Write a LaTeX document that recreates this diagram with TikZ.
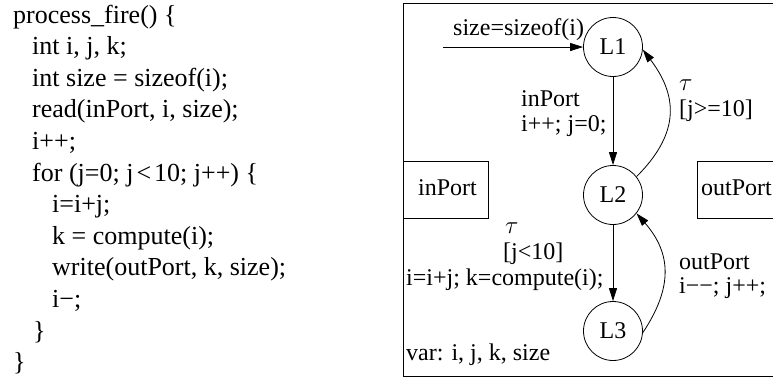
\documentclass[tikz,border=0pt]{standalone}
\usepackage{fontspec}
\setmainfont{Liberation Serif}
\usetikzlibrary{arrows.meta}

\tikzset{
  codeline/.style={anchor=base west, inner sep=0pt, font=\fontsize{26}{31}\selectfont},
  lbl/.style={anchor=base west, inner sep=0pt, font=\fontsize{24}{28}\selectfont},
  loc/.style={draw, circle, minimum size=59pt, inner sep=0pt, line width=0.8pt,
              font=\fontsize{24}{28}\selectfont},
  portbox/.style={draw, line width=0.8pt},
  trans/.style={line width=0.8pt, -{Triangle[length=13pt,width=8pt]}},
}

\begin{document}
\begin{tikzpicture}[x=1pt, y=-1pt]
  \useasboundingbox (0,0) rectangle (773,378);
  \clip (0,0) rectangle (773,378);

  % source code of the actor
  \node[codeline] (c1)  at (13,23)    {process\_fire() \{};
  \node[codeline] (c2)  at (32,54.6)  {int i, j, k;};
  \node[codeline] (c3)  at (32,86.2)  {int size = sizeof(i);};
  \node[codeline] (c4)  at (32,117.8) {read(inPort, i, size);};
  \node[codeline] (c5)  at (32,149.4) {i++;};
  \node[codeline] (c6)  at (32,181)   {for (j=0; j\kern3pt<\kern3pt10; j++) \{};
  \node[codeline] (c7)  at (52,212.6) {i=i+j;};
  \node[codeline] (c8)  at (52,244.2) {k = compute(i);};
  \node[codeline] (c9)  at (52,275.8) {write(outPort, k, size);};
  \node[codeline] (c10) at (52,307.4) {i−;};
  \node[codeline] (c11) at (33,339)   {\}};
  \node[codeline] (c12) at (13,370.6) {\}};

  % automaton frame and ports
  \draw[line width=1pt] (403,3) rectangle (800,376);
  \draw[portbox] (403,161) rectangle (488,218);
  \node[lbl] (inp) at (418,195) {inPort};
  \draw[portbox] (697,161) rectangle (800,218);
  \node[lbl] (outp) at (701,195) {outPort};

  % locations
  \node[loc] (L1) at (613,47)  {L1};
  \node[loc] (L2) at (613,195) {L2};
  \node[loc] (L3) at (613,331) {L3};

  % initial transition
  \coordinate (init) at (443,47);
  \draw[trans] (init) -- (L1);
  \node[lbl] (initlbl) at (453,35) {size=sizeof(i)};

  % L1 -> L2
  \draw[trans] (L1) -- (L2);
  \node[lbl] (a1) at (521,106) {inPort};
  \node[lbl] (a2) at (521,131) {i++; j=0;};

  % L2 -> L1
  \draw[trans] (L2.38) .. controls +(40,-40) and +(38,50) .. (L1.-5);
  \node[lbl] (b1) at (679,90)  {$\tau$};
  \node[lbl] (b2) at (679,116) {[j>=10]};

  % L2 -> L3
  \draw[trans] (L2) -- (L3);
  \node[lbl] (d1) at (505,233) {$\tau$};
  \node[lbl] (d2) at (503,259) {[j<10]};
  \node[lbl] (d3) at (406,285) {i=i+j; k=compute(i);};

  % L3 -> L2
  \draw[trans] (L3.-3) .. controls +(30,-45) and +(35,40) .. (L2.-38);
  \node[lbl] (e1) at (679,269) {outPort};
  \node[lbl] (e2) at (679,293) {i−−; j++;};

  % variable declaration
  \node[lbl] (vars) at (406,360) {var: i, j, k, size};
\end{tikzpicture}
\end{document}
